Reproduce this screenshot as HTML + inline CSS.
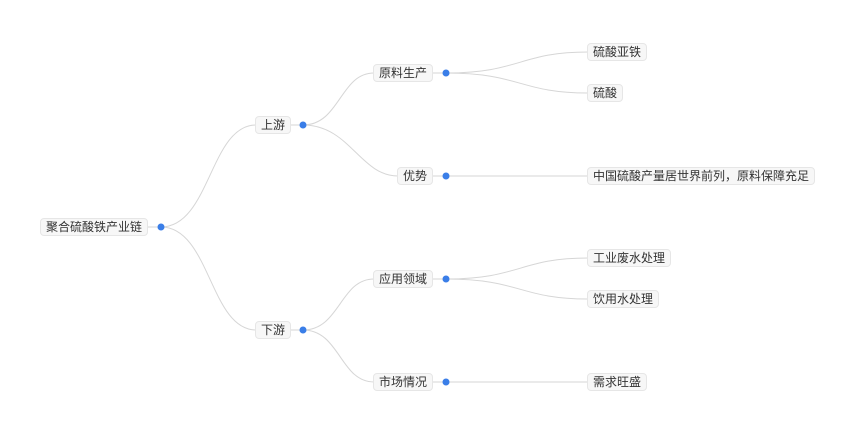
<!DOCTYPE html>
<html><head><meta charset="utf-8"><style>
body{margin:0;background:#fff;width:864px;height:425px;overflow:hidden;position:relative;font-family:"Liberation Sans","Noto Sans CJK SC",sans-serif;}
.n{position:absolute;height:16px;line-height:16px;font-size:12px;color:#333;background:#f7f7f7;border:1px solid #e6e6e6;border-radius:4px;padding:0 5px;white-space:nowrap;transform:translateY(-50%);}
svg{position:absolute;left:0;top:0}
</style></head><body>
<svg width="864" height="425">
<g fill="none" stroke="#d6d6d6" stroke-width="1">
<path d="M147 227H161"/>
<path d="M161 227C210 227 210 125 256 125"/>
<path d="M161 227C210 227 210 330 256 330"/>
<path d="M290 125H303"/><path d="M290 330H303"/>
<path d="M303 125C340 125 340 73 374 73"/>
<path d="M303 125C350 125 360 176 398 176"/>
<path d="M303 330C340 330 340 279 374 279"/>
<path d="M303 330C340 330 340 382 374 382"/>
<path d="M433 73H446"/><path d="M433 176H446"/><path d="M433 279H446"/><path d="M433 382H446"/>
<path d="M446 73C520 73 520 52 588 52"/>
<path d="M446 73C520 73 520 93 588 93"/>
<path d="M446 176H588"/>
<path d="M446 279C520 279 520 258 588 258"/>
<path d="M446 279C520 279 520 299 588 299"/>
<path d="M446 382H588"/>
</g>
<g fill="#3a7ee8">
<circle cx="161" cy="227" r="3.5"/><circle cx="303" cy="125" r="3.5"/><circle cx="303" cy="330" r="3.5"/>
<circle cx="446" cy="73" r="3.5"/><circle cx="446" cy="176" r="3.5"/><circle cx="446" cy="279" r="3.5"/><circle cx="446" cy="382" r="3.5"/>
</g>
</svg>
<div class="n" style="left:40px;top:227px">聚合硫酸铁产业链</div>
<div class="n" style="left:255px;top:125px">上游</div>
<div class="n" style="left:255px;top:330px">下游</div>
<div class="n" style="left:373px;top:73px">原料生产</div>
<div class="n" style="left:397px;top:176px">优势</div>
<div class="n" style="left:373px;top:279px">应用领域</div>
<div class="n" style="left:373px;top:382px">市场情况</div>
<div class="n" style="left:587px;top:52px">硫酸亚铁</div>
<div class="n" style="left:587px;top:93px">硫酸</div>
<div class="n" style="left:587px;top:176px">中国硫酸产量居世界前列，原料保障充足</div>
<div class="n" style="left:587px;top:258px">工业废水处理</div>
<div class="n" style="left:587px;top:299px">饮用水处理</div>
<div class="n" style="left:587px;top:382px">需求旺盛</div>
</body></html>
